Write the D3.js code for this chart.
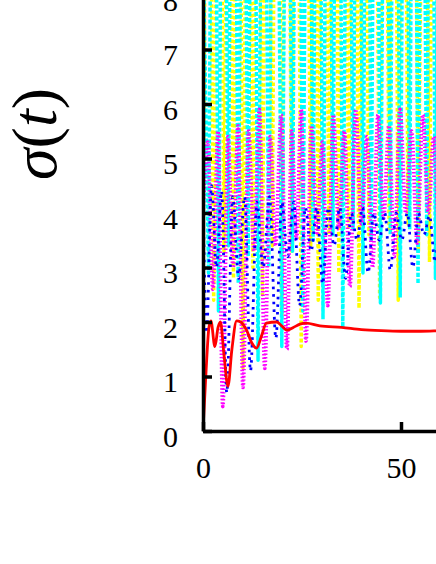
<!DOCTYPE html>
<html><head><meta charset="utf-8">
<script src="https://cdn.jsdelivr.net/npm/d3@7"></script>
<style>html,body{margin:0;padding:0;background:#fff;}</style>
</head><body>
<svg id="chart" width="436" height="564"></svg>
<script>
// ---- data ----
const yTicks = [0, 1, 2, 3, 4, 5, 6, 7, 8];
const xTicks = [0, 50];

const redT = [0, 0.7, 1.5, 2.0, 3.0, 3.8, 4.4, 5.3, 6.3, 7.3, 8.5, 9.5, 11, 12.3, 13.5, 14.8, 16, 18.6, 20, 21.2, 22.8, 24.5, 26, 29.5, 35, 40, 45, 50, 55, 60, 65];
const redV = [0, 1.0, 1.9, 2.02, 1.55, 1.9, 2.0, 1.4, 0.82, 1.5, 2.02, 2.0, 1.85, 1.62, 1.52, 1.75, 1.98, 2.0, 1.92, 1.85, 1.9, 1.96, 1.98, 1.93, 1.9, 1.86, 1.84, 1.83, 1.83, 1.84, 1.85];

const yellowT = [0, 1.3, 2.7, 4.0, 5.3, 6.5, 7.7, 8.9, 10.1, 11.3, 12.6, 13.8, 15.0, 16.2, 17.5, 18.7, 19.9, 21.1, 22.4, 23.6, 24.8, 26.0, 27.2, 28.2, 29.1, 30.4, 31.8, 33.0, 34.3, 35.5, 36.8, 38.1, 39.4, 40.6, 41.9, 43.2, 44.6, 45.8, 47.0, 48.2, 49.3, 50.5, 51.8, 53.1, 54.4, 55.8, 57.2, 58.4, 59.6, 60.8, 62.0, 63.2];
const yellowV = [3.6, 17, 2.4, 18, 3.3, 16, 2.8, 19, 1.15, 17, 3.0, 18, 2.5, 16, 3.4, 19, 2.1, 17, 3.3, 18, 1.55, 16, 3.4, 18, 2.4, 17, 3.6, 19, 2.9, 17, 3.7, 18, 2.25, 16, 3.6, 18, 2.45, 17, 3.7, 19, 2.4, 17, 3.8, 18, 3.3, 16, 3.1, 18, 3.9, 17, 3.4, 18];

const cyanT = [0, 1.4, 2.65, 3.9, 5.15, 6.4, 7.65, 8.9, 10.15, 11.4, 12.65, 13.9, 15.25, 16.6, 18.25, 19.9, 21.25, 22.6, 23.9, 25.2, 26.5, 27.8, 29.05, 30.3, 31.55, 32.8, 34.05, 35.3, 36.6, 37.9, 39.15, 40.4, 41.45, 42.5, 43.65, 44.8, 46.05, 47.3, 48.55, 49.8, 51.0, 52.2, 53.25, 54.3, 55.4, 56.5, 57.6, 58.7, 59.85, 61.0, 62.2];
const cyanV = [9, 2.9, 18, 2.2, 17, 3.4, 19, 2.7, 16, 3.2, 18, 1.3, 17, 3.0, 18, 1.55, 16, 3.3, 19, 2.2, 17, 3.5, 18, 2.05, 17, 3.6, 19, 1.9, 16, 3.7, 18, 2.9, 17, 3.5, 18, 2.35, 16, 3.6, 19, 2.45, 17, 3.7, 18, 2.7, 16, 3.6, 18, 2.8, 17, 3.7, 18];

const magentaT = [0, 1.2, 2.5, 3.8, 5.0, 6.3, 7.6, 8.85, 10.1, 11.5, 12.9, 14.25, 15.6, 16.95, 18.3, 19.75, 21.2, 22.4, 23.6, 24.8, 26.0, 27.4, 28.8, 30.15, 31.5, 32.9, 34.3, 35.7, 37.1, 38.55, 40.0, 41.4, 42.8, 44.2, 45.6, 46.95, 48.3, 49.75, 51.2, 52.65, 54.1, 55.5, 56.9, 58.3, 59.7, 61.1, 62.5];
const magentaV = [4.0, 5.3, 2.6, 5.5, 0.45, 5.4, 3.0, 5.6, 0.8, 5.5, 3.3, 5.9, 1.15, 5.4, 3.4, 5.8, 1.5, 5.5, 3.5, 5.9, 1.65, 5.6, 3.6, 5.3, 2.3, 5.8, 3.7, 5.5, 2.65, 5.9, 3.8, 5.4, 3.0, 5.8, 3.9, 5.6, 3.2, 5.9, 4.0, 5.5, 3.45, 5.8, 4.0, 5.4, 3.5, 5.9, 4.1];

const blueT = [0, 0.9, 2.15, 3.4, 4.7, 6.0, 7.5, 9.0, 10.5, 12.0, 13.6, 15.2, 16.8, 18.4, 19.9, 21.4, 22.9, 24.4, 25.85, 27.3, 28.75, 30.2, 31.65, 33.1, 34.55, 36.0, 37.45, 38.9, 40.3, 41.7, 43.1, 44.5, 45.9, 47.3, 48.75, 50.2, 51.6, 53.0, 54.4, 55.8, 57.2, 58.6, 60.0, 61.4, 62.8];
const blueV = [4.4, 1.8, 4.5, 3.0, 4.4, 0.7, 4.3, 2.8, 4.3, 1.1, 4.2, 3.0, 4.3, 1.7, 4.2, 3.2, 4.2, 2.3, 4.1, 3.3, 4.1, 2.7, 4.1, 3.4, 4.1, 2.8, 4.0, 3.5, 4.1, 2.9, 4.0, 3.5, 4.0, 2.95, 4.0, 3.5, 4.0, 3.0, 4.0, 3.6, 3.95, 3.1, 4.0, 3.6, 4.0];

// ---- drawing ----
const svg = d3.select("#chart");
const x = d3.scaleLinear().domain([0, 100]).range([203, 599]);
const y = d3.scaleLinear().domain([0, 8]).range([431, -5]);

svg.append("defs").append("clipPath").attr("id", "plotclip")
  .append("rect").attr("x", 203).attr("y", -5).attr("width", 396).attr("height", 436);

const plot = svg.append("g").attr("clip-path", "url(#plotclip)");

const series = [
  {t: yellowT, v: yellowV, color: "#ffff00", w: 3.5, dash: "3.5,2.5", curve: d3.curveLinear},
  {t: cyanT, v: cyanV, color: "#00ffff", w: 3.5, dash: "4,2", curve: d3.curveLinear},
  {t: magentaT, v: magentaV, color: "#ff00ff", w: 3.8, dash: "1.5,2", curve: d3.curveMonotoneX},
  {t: blueT, v: blueV, color: "#0000ff", w: 2.8, dash: "2.6,5", curve: d3.curveMonotoneX},
  {t: redT, v: redV, color: "#ff0000", w: 2.8, dash: null, curve: d3.curveMonotoneX}
];

series.forEach(s => {
  const pts = s.t.map((t, i) => [t, s.v[i]]);
  const line = d3.line().x(d => x(d[0])).y(d => y(d[1])).curve(s.curve);
  const p = plot.append("path").datum(pts)
    .attr("d", line).attr("fill", "none")
    .attr("stroke", s.color).attr("stroke-width", s.w)
    .attr("stroke-linejoin", "round");
  if (s.dash) p.attr("stroke-dasharray", s.dash);
});

// axes
const yAxis = d3.axisLeft(y).tickValues(yTicks).tickSize(-9).tickSizeOuter(0).tickPadding(25).tickFormat(d3.format("d"));
const xAxis = d3.axisBottom(x).tickValues(xTicks).tickSize(-9).tickSizeOuter(0).tickPadding(26).tickFormat(d3.format("d"));

const gy = svg.append("g").attr("transform", "translate(203,0)").call(yAxis);
const gx = svg.append("g").attr("transform", "translate(0,431)").call(xAxis);

[gy, gx].forEach(g => {
  g.select(".domain").attr("stroke", "#000").attr("stroke-width", 3.5);
  g.selectAll(".tick line").attr("stroke", "#000").attr("stroke-width", 3.5);
  g.selectAll(".tick text").attr("fill", "#000")
    .style("font-family", "'Liberation Serif', 'Times New Roman', serif")
    .style("font-size", "30px");
});
gy.selectAll(".tick text").attr("dy", "0.5em");

// y-axis title
const title = svg.append("text")
  .attr("transform", "translate(56,134) rotate(-90)")
  .attr("text-anchor", "middle")
  .style("font-family", "'Liberation Serif', 'Times New Roman', serif")
  .style("font-size", "64px")
  .attr("fill", "#000");
title.append("tspan").style("font-style", "italic").text("σ");
title.append("tspan").text("(");
title.append("tspan").style("font-style", "italic").text("t");
title.append("tspan").text(")");
</script>
</body></html>
